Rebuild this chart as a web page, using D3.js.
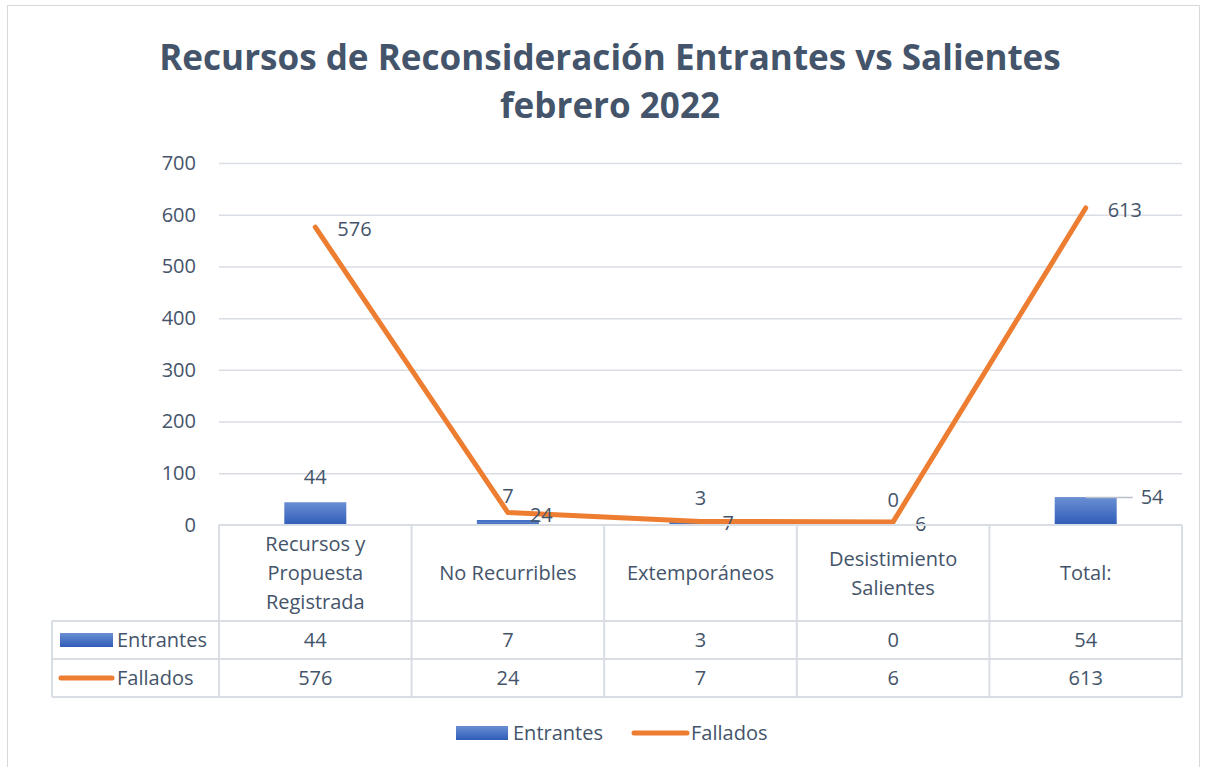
<!doctype html>
<html lang="es">
<head>
<meta charset="utf-8">
<script src="https://d3js.org/d3.v7.min.js"></script>
<title>Recursos de Reconsideración</title>
<style>
  body { margin: 0; background: #fff; }
  text { font-family: "Open Sans", "Noto Sans", sans-serif; fill: #44546A; }
</style>
</head>
<body>
<svg id="svg" width="1205" height="767"></svg>
<script>
// datos
const categories = ["Recursos y Propuesta Registrada", "No Recurribles", "Extemporáneos", "Desistimiento Salientes", "Total:"];
const categoryLines = [["Recursos y", "Propuesta", "Registrada"], ["No Recurribles"], ["Extemporáneos"], ["Desistimiento", "Salientes"], ["Total:"]];
const entrantes = [44, 7, 3, 0, 54];
const fallados = [576, 24, 7, 6, 613];
const yTicks = [0, 100, 200, 300, 400, 500, 600, 700];

const width = 1205, height = 767;
const plot = { left: 219, right: 1182, top: 163, bottom: 525 };
const rowH = 38, headerH = 96, tableLeft = 52;
const grid = "#D9DDE4";
const blue = "#4472C4", orange = "#ED7D31";
const fs = 20;

const svg = d3.select("#svg");

// gradiente de la barra
const defs = svg.append("defs");
const grad = defs.append("linearGradient").attr("id", "barGrad").attr("x1", 0).attr("y1", 0).attr("x2", 0).attr("y2", 1);
grad.append("stop").attr("offset", "0%").attr("stop-color", "#6A8FD3");
grad.append("stop").attr("offset", "100%").attr("stop-color", "#2F5CB8");

// marco
svg.append("rect").attr("x", 7.5).attr("y", 5.5).attr("width", 1192).attr("height", 800)
  .attr("fill", "none").attr("stroke", "#D9D9D9");

// titulo
const title = svg.append("g");
function fitText(sel, target) {
  const w = sel.node().getComputedTextLength();
  const f = parseFloat(sel.attr("font-size"));
  sel.attr("font-size", f * target / w);
}
const t1 = title.append("text").attr("x", 610).attr("y", 70).attr("text-anchor", "middle")
  .attr("font-size", 37).attr("font-weight", "bold").text("Recursos de Reconsideración Entrantes vs Salientes");
fitText(t1, 902);
const t2 = title.append("text").attr("x", 610).attr("y", 118).attr("text-anchor", "middle")
  .attr("font-size", t1.attr("font-size")).attr("font-weight", "bold").text("febrero 2022");

// escalas
const x = d3.scaleBand().domain(categories).range([plot.left, plot.right]);
const y = d3.scaleLinear().domain([0, 700]).range([plot.bottom, plot.top]);

// lineas de cuadricula
svg.append("g").selectAll("line").data(yTicks.filter(d => d > 0)).join("line")
  .attr("x1", plot.left).attr("x2", plot.right)
  .attr("y1", d => y(d) + 0.5).attr("y2", d => y(d) + 0.5)
  .attr("stroke", grid).attr("stroke-width", 1.5);

// eje y
const yAxis = svg.append("g").attr("transform", `translate(${plot.left - 23},0)`)
  .call(d3.axisLeft(y).tickValues(yTicks).tickSize(0).tickPadding(0));
yAxis.select(".domain").remove();
yAxis.selectAll(".tick text").attr("font-size", fs).attr("fill", "#44546A")
  .style("font-family", '"Open Sans", "Noto Sans", sans-serif');

// barras
const barW = 62;
svg.append("g").selectAll("rect").data(entrantes).join("rect")
  .attr("x", (d, i) => x(categories[i]) + x.bandwidth() / 2 - barW / 2)
  .attr("y", d => y(d))
  .attr("width", barW)
  .attr("height", d => Math.max(0, y(0) - y(d)))
  .attr("fill", "url(#barGrad)");
// barra muy pequeña: linea azul
svg.append("g").selectAll("line").data(entrantes.filter(d => d > 0 && d < 10)).join("line")
  .attr("x1", (d) => x(categories[entrantes.indexOf(d)]) + x.bandwidth() / 2 - barW / 2)
  .attr("x2", (d) => x(categories[entrantes.indexOf(d)]) + x.bandwidth() / 2 + barW / 2)
  .attr("y1", d => y(d) - 0.5).attr("y2", d => y(d) - 0.5)
  .attr("stroke", blue).attr("stroke-width", 2);

// etiquetas de las barras
const last = entrantes.length - 1;
svg.append("line")
  .attr("x1", x(categories[last]) + x.bandwidth() / 2).attr("x2", x(categories[last]) + x.bandwidth() / 2 + 47)
  .attr("y1", y(entrantes[last]) + 0.5).attr("y2", y(entrantes[last]) + 0.5)
  .attr("stroke", "#B8BFCA").attr("stroke-width", 1.5);
svg.append("g").selectAll("text").data(entrantes).join("text")
  .attr("x", (d, i) => i === last ? x(categories[i]) + x.bandwidth() / 2 + 55 : x(categories[i]) + x.bandwidth() / 2)
  .attr("y", (d, i) => i === last ? y(d) + 7 : y(d) - 18)
  .attr("text-anchor", (d, i) => i === last ? "start" : "middle")
  .attr("font-size", fs).text(d => d);

// linea
const line = d3.line().x((d, i) => x(categories[i]) + x.bandwidth() / 2).y(d => y(d));
svg.append("path").datum(fallados).attr("d", line)
  .attr("fill", "none").attr("stroke", orange).attr("stroke-width", 5)
  .attr("stroke-linejoin", "round").attr("stroke-linecap", "round");

// etiquetas de la linea
svg.append("g").selectAll("text").data(fallados).join("text")
  .attr("x", (d, i) => x(categories[i]) + x.bandwidth() / 2 + 22)
  .attr("y", (d, i) => y(d) + 9)
  .attr("font-size", fs).text(d => d);

// tabla de datos
const tbl = svg.append("g");
const rows = [
  { name: "Entrantes", values: entrantes, type: "bar" },
  { name: "Fallados", values: fallados, type: "line" }
];
const hLines = [plot.bottom, plot.bottom + headerH, plot.bottom + headerH + rowH, plot.bottom + headerH + 2 * rowH];
hLines.forEach((yy, k) => {
  tbl.append("line").attr("x1", k === 0 ? plot.left : tableLeft).attr("x2", plot.right)
    .attr("y1", yy).attr("y2", yy).attr("stroke", grid).attr("stroke-width", 2);
});
const bounds = categories.map(c => x(c)).concat([plot.right]);
bounds.forEach(bx => {
  tbl.append("line").attr("x1", bx).attr("x2", bx)
    .attr("y1", plot.bottom).attr("y2", hLines[3]).attr("stroke", grid).attr("stroke-width", 2);
});
tbl.append("line").attr("x1", tableLeft).attr("x2", tableLeft)
  .attr("y1", hLines[1]).attr("y2", hLines[3]).attr("stroke", grid).attr("stroke-width", 2);

// encabezados de categoria
categoryLines.forEach((lines, i) => {
  const cx = x(categories[i]) + x.bandwidth() / 2;
  const cy = plot.bottom + headerH / 2;
  const lh = 29;
  lines.forEach((ln, j) => {
    tbl.append("text").attr("x", cx).attr("y", cy + (j - (lines.length - 1) / 2) * lh + 7)
      .attr("text-anchor", "middle").attr("font-size", fs).text(ln);
  });
});

// filas
rows.forEach((r, k) => {
  const ry = hLines[1] + k * rowH + rowH / 2;
  if (r.type === "bar") {
    tbl.append("rect").attr("x", 60).attr("y", ry - 7).attr("width", 53).attr("height", 14).attr("fill", "url(#barGrad)");
  } else {
    tbl.append("line").attr("x1", 61).attr("x2", 112).attr("y1", ry).attr("y2", ry)
      .attr("stroke", orange).attr("stroke-width", 5).attr("stroke-linecap", "round");
  }
  tbl.append("text").attr("x", 117).attr("y", ry + 7).attr("font-size", fs).text(r.name);
  r.values.forEach((v, i) => {
    tbl.append("text").attr("x", x(categories[i]) + x.bandwidth() / 2).attr("y", ry + 7)
      .attr("text-anchor", "middle").attr("font-size", fs).text(v);
  });
});

// leyenda
const lg = svg.append("g").attr("transform", "translate(0,733)");
lg.append("rect").attr("x", 456).attr("y", -7).attr("width", 52).attr("height", 14).attr("fill", "url(#barGrad)");
lg.append("text").attr("x", 513).attr("y", 7).attr("font-size", fs).text("Entrantes");
lg.append("line").attr("x1", 634).attr("x2", 687).attr("y1", 0).attr("y2", 0)
  .attr("stroke", orange).attr("stroke-width", 5).attr("stroke-linecap", "round");
lg.append("text").attr("x", 691).attr("y", 7).attr("font-size", fs).text("Fallados");
</script>
</body>
</html>
